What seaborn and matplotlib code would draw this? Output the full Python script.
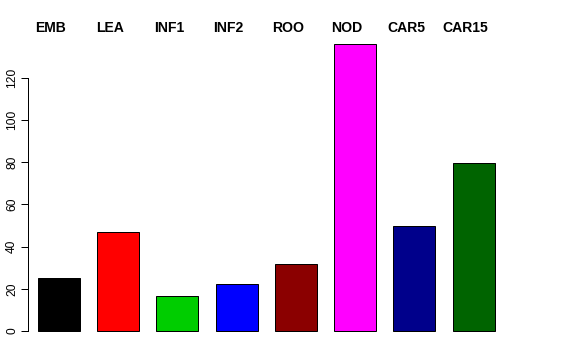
import matplotlib
matplotlib.use("Agg")
import matplotlib.pyplot as plt
import seaborn as sns
import pandas as pd

categories = ["EMB", "LEA", "INF1", "INF2", "ROO", "NOD", "CAR5", "CAR15"]
values = [25, 46.7, 16.4, 22.3, 31.6, 136.2, 50, 79.8]
colors = ["#000000", "#FF0000", "#00CD00", "#0000FF", "#8B0000", "#FF00FF", "#00008B", "#006400"]
yticks = [0, 20, 40, 60, 80, 100, 120]

sns.set_theme(style="white")
plt.rcParams['font.family'] = ['Liberation Sans', 'DejaVu Sans']
plt.rcParams['text.color'] = 'black'
plt.rcParams['ytick.color'] = 'black'
plt.rcParams['ytick.labelcolor'] = 'black'

df = pd.DataFrame({"cat": categories, "val": values})

fig = plt.figure(figsize=(8, 5), dpi=72)
ax = fig.add_axes([28/576, (360-342.5)/360, (504.5-28)/576, (342.5-32.2)/360])
sns.barplot(data=df, x="cat", y="val", hue="cat", palette=colors, order=categories,
            hue_order=categories, legend=False, width=0.71, edgecolor="black",
            linewidth=1.0, saturation=1, ax=ax)

ax.set_xlim(-0.523, len(categories) - 1 + 0.523)
ax.set_ylim(-0.04 * max(values), max(values) * 1.04)
for s in ["top", "right", "bottom"]:
    ax.spines[s].set_visible(False)
ax.spines["left"].set_bounds(0, 120)
ax.spines["left"].set_color("black")
ax.spines["left"].set_linewidth(1.0)
ax.set_xticks([])
ax.set_yticks(yticks)
ax.set_yticklabels([str(t) for t in yticks], rotation=90, va="center", fontsize=12, color="black")
ax.tick_params(axis="y", direction="out", length=7, width=1.0, color="black", left=True, pad=3)
ax.set_xlabel("")
ax.set_ylabel("")

for i, c in enumerate(categories):
    ax.annotate(c, xy=(i - 0.135, (360 - 28) / 360), xycoords=("data", "figure fraction"),
                ha="center", va="center", fontsize=14, fontweight="bold", color="black",
                annotation_clip=False)

fig.savefig("out.png", dpi=72)
